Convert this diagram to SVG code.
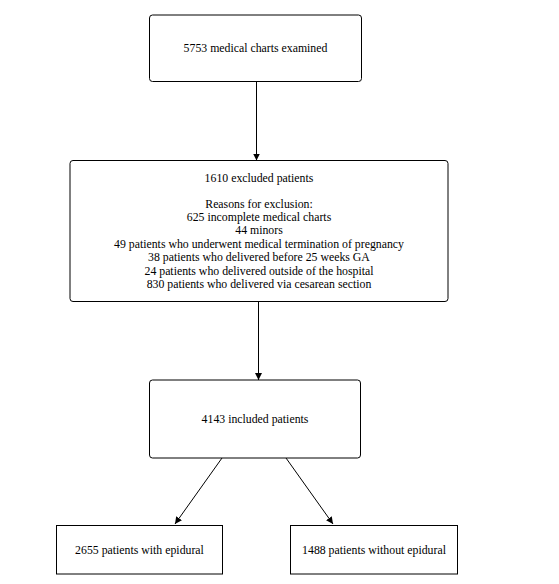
<svg xmlns="http://www.w3.org/2000/svg" width="559" height="584" viewBox="0 0 559 584">
<defs>
<marker id="ah" viewBox="0 0 10 10" refX="10" refY="5" markerWidth="7" markerHeight="7" markerUnits="userSpaceOnUse" orient="auto">
<path d="M0,0 L10,5 L0,10 z" fill="#000"/>
</marker>
<style>
.box{fill:#fff;stroke:#000;stroke-width:1}
.t{font-family:"Liberation Serif","Times New Roman",serif;font-size:11.8px;fill:#000;text-anchor:middle}
.c{stroke:#000;stroke-width:1;fill:none;marker-end:url(#ah)}
</style>
</defs>
<rect width="559" height="584" fill="#fff"/>
<g id="connectors">
<line class="c" x1="256.5" y1="81.5" x2="256.5" y2="160.5"/>
<line class="c" x1="258.5" y1="301.5" x2="258.5" y2="380"/>
<line class="c" x1="222" y1="458" x2="175" y2="524"/>
<line class="c" x1="286" y1="458" x2="333" y2="524"/>
</g>
<g id="n1">
<rect class="box" x="149.5" y="15" width="212" height="66.5" rx="3"/>
<text class="t" x="255.5" y="51.5">5753 medical charts examined</text>
</g>
<g id="n2">
<rect class="box" x="70" y="160.5" width="378" height="141" rx="3"/>
<text class="t" x="259" y="181.7">1610 excluded patients</text>
<text class="t" x="259" y="207.5">Reasons for exclusion:</text>
<text class="t" x="259" y="220.9">625 incomplete medical charts</text>
<text class="t" x="259" y="234.3">44 minors</text>
<text class="t" x="259" y="247.7">49 patients who underwent medical termination of pregnancy</text>
<text class="t" x="259" y="261.1">38 patients who delivered before 25 weeks GA</text>
<text class="t" x="259" y="274.5">24 patients who delivered outside of the hospital</text>
<text class="t" x="259" y="287.9">830 patients who delivered via cesarean section</text>
</g>
<g id="n3">
<rect class="box" x="149.5" y="380" width="211" height="78" rx="3"/>
<text class="t" x="255" y="422.7">4143 included patients</text>
</g>
<g id="n4">
<rect class="box" x="56.5" y="525.5" width="166" height="48.5"/>
<text class="t" x="139.5" y="554">2655 patients with epidural</text>
</g>
<g id="n5">
<rect class="box" x="290.5" y="525.5" width="167" height="48.5"/>
<text class="t" x="374" y="554">1488 patients without epidural</text>
</g>
</svg>
